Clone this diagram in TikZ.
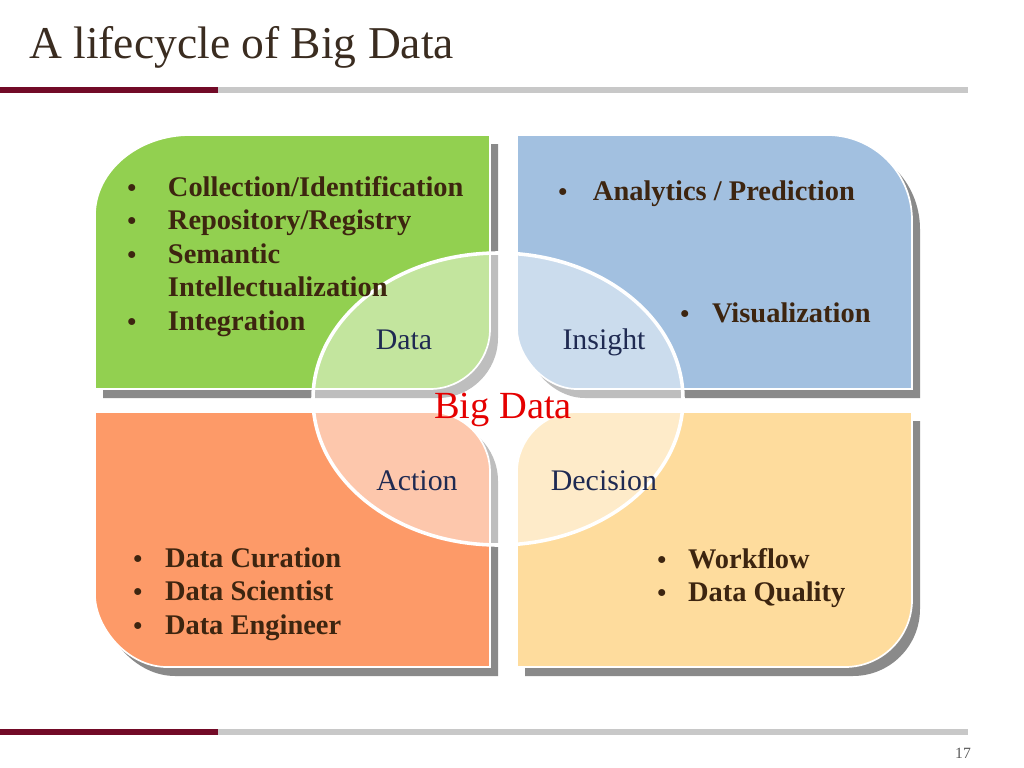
\documentclass[tikz,border=0pt]{standalone}
\usepackage{fontspec}
\setmainfont{Liberation Serif}
\usetikzlibrary{positioning}
\definecolor{cmaroon}{HTML}{720A27}
\definecolor{cbar}{HTML}{C8C8C8}
\definecolor{cgreen}{HTML}{92D050}
\definecolor{cblue}{HTML}{A2C0E0}
\definecolor{corange}{HTML}{FD9A68}
\definecolor{cyellow}{HTML}{FEDC9D}
\definecolor{cshadow}{HTML}{8A8A8A}
\definecolor{cbrown}{HTML}{3D2510}
\definecolor{cnavy}{HTML}{1F2A52}
\definecolor{ctitle}{HTML}{3A2C20}
\definecolor{cpage}{HTML}{595959}
\tikzset{
  panel/.style={fill=#1, draw=white, line width=1.2pt},
  drop/.style={fill=cshadow, shift={(8,9)}},
  bullets/.style={anchor=base west, inner sep=0pt, text=cbrown, font=\fontsize{20}{23.6}\selectfont\bfseries},
  leaf/.style={anchor=base, inner sep=0pt, text=cnavy, font=\fontsize{21}{24}\selectfont},
}
% bullet, and a bullet list: gap between bullet and text, then the rows
\newcommand{\bdot}{{\fontsize{18}{18}\selectfont\textbullet}}
\newcommand{\blist}[2]{\begin{tabular}[t]{@{}l@{\hspace{#1}}l@{}}#2\end{tabular}}
% the four quarter panels (pixel units, y pointing down)
\newcommand{\pathdata}{(95,215) .. controls (95,171) and (138,135) .. (190,135) -- (490,135) -- (490,329)
  .. controls (490,362) and (463,389) .. (430,389) -- (95,389) -- cycle}
\newcommand{\pathinsight}{(517,135) -- (827,135) .. controls (874,135) and (912,173) .. (912,220) -- (912,389)
  -- (577,389) .. controls (544,389) and (517,356) .. (517,329) -- cycle}
\newcommand{\pathaction}{(95,412) -- (430,412) .. controls (463,412) and (490,439) .. (490,472) -- (490,667)
  -- (167,667) .. controls (127,667) and (95,627) .. (95,595) -- cycle}
\newcommand{\pathdecision}{(517,472) .. controls (517,439) and (544,412) .. (577,412) -- (912,412) -- (912,600)
  .. controls (912,637) and (882,667) .. (845,667) -- (517,667) -- cycle}

\begin{document}
\begin{tikzpicture}[x=0.703pt, y=-0.703pt]
  \useasboundingbox (0,0) rectangle (1024,768);
  % title and rules
  \node[anchor=base west, inner sep=0pt, text=ctitle, font=\fontsize{32}{36}\selectfont] (title) at (29,58) {A lifecycle of Big Data};
  \fill[cmaroon] (0,87) rectangle (218,93);
  \fill[cbar] (218,87) rectangle (968,93);
  \fill[cmaroon] (0,729) rectangle (218,735);
  \fill[cbar] (218,729) rectangle (968,735);
  \node[anchor=base, inner sep=0pt, text=cpage, font=\fontsize{11}{13}\selectfont] (page) at (963,758) {17};

  % panels with drop shadows
  \fill[drop] \pathdata;  \fill[drop] \pathinsight;
  \fill[drop] \pathaction; \fill[drop] \pathdecision;
  \filldraw[panel=cgreen] \pathdata;
  \filldraw[panel=cblue] \pathinsight;
  \filldraw[panel=corange] \pathaction;
  \filldraw[panel=cyellow] \pathdecision;

  % centre ellipse
  \draw[draw=white, line width=2.5pt, fill=white, fill opacity=0.45] (498,399) ellipse [x radius=185, y radius=146];

  % panel texts
  \node[bullets] (collect) at (127,196) {\blist{22.3pt}{\bdot & Collection/Identification\\ \bdot & Repository/Registry\\
    \bdot & Semantic\\ & Intellectualization\\ \bdot & Integration}};
  \node[bullets] (analytics) at (558,200) {\blist{18.1pt}{\bdot & Analytics / Prediction}};
  \node[bullets] (visual) at (680,322) {\blist{16pt}{\bdot & Visualization}};
  \node[bullets] (curation) at (133,567) {\blist{16pt}{\bdot & Data Curation\\ \bdot & Data Scientist\\ \bdot & Data Engineer}};
  \node[bullets] (workflow) at (657,568) {\blist{15.3pt}{\bdot & Workflow\\ \bdot & Data Quality}};

  % leaf labels
  \node[leaf] (data) at (404,349) {Data};
  \node[leaf] (insight) at (604,349) {Insight};
  \node[leaf] (action) at (417,490) {Action};
  \node[leaf] (decision) at (604,490) {Decision};
  \node[leaf, text=red!90!black, font=\fontsize{27}{30}\selectfont] (bigdata) at (503,418) {Big Data};
\end{tikzpicture}
\end{document}
